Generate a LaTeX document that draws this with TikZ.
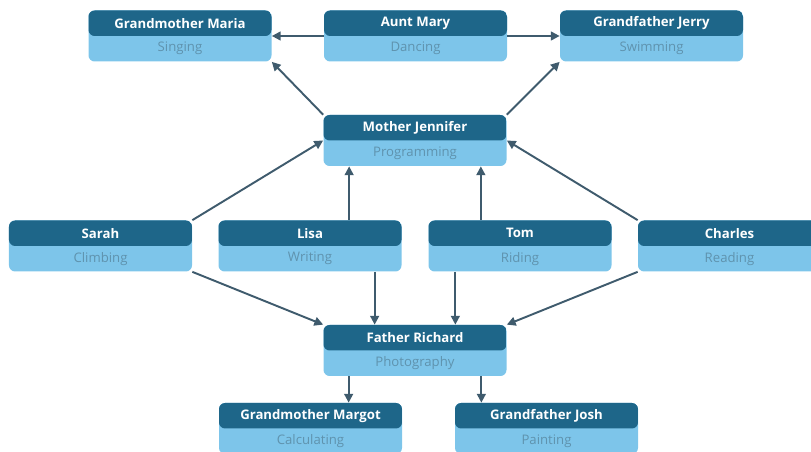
\documentclass[tikz,border=0pt]{standalone}
\usepackage{fontspec}
\setmainfont{Open Sans}
\usetikzlibrary{arrows.meta, positioning, calc}
\definecolor{headcol}{HTML}{1E6689}
\definecolor{hobbycol}{HTML}{7DC5EA}
\definecolor{hobbyink}{HTML}{5F93AE}
\definecolor{arrowcol}{HTML}{3F5B6D}
\tikzset{
  famcard/.style={rounded corners=3.5pt, fill=hobbycol, inner sep=0pt,
    minimum width=3.66cm, minimum height=1.02cm,
    path picture={\fill[headcol] (path picture bounding box.north west)
      rectangle (path picture bounding box.east);}},
  nametxt/.style={font=\fontsize{7.5}{9}\selectfont\bfseries, text=white, inner sep=0pt},
  hobbytxt/.style={font=\fontsize{7.5}{9}\selectfont, text=hobbyink, inner sep=0pt},
  famarrow/.style={-{Triangle[length=5pt,width=5pt]}, draw=arrowcol, line width=1.1pt},
}
% card: name, x, y, title, hobby
\newcommand{\famCard}[5]{%
  \node[famcard] (#1) at (#2,#3) {};
  \node[nametxt] (#1-name) at ([yshift=0.255cm]#1.center) {#4};
  \node[hobbytxt] (#1-hobby) at ([yshift=-0.255cm]#1.center) {#5};
}

\begin{document}
\begin{tikzpicture}
  \useasboundingbox (0,0) rectangle (16.22,9.04);

  % ===== grandparents and aunt =====
  \famCard{gmaria}{3.60}{8.32}{Grandmother Maria}{Singing}
  \famCard{aunt}{8.31}{8.32}{Aunt Mary}{Dancing}
  \famCard{gjerry}{13.03}{8.32}{Grandfather Jerry}{Swimming}

  % ===== parents =====
  \famCard{mother}{8.30}{6.23}{Mother Jennifer}{Programming}
  \famCard{father}{8.30}{2.03}{Father Richard}{Photography}

  % ===== children =====
  \famCard{sarah}{2.01}{4.12}{Sarah}{Climbing}
  \famCard{lisa}{6.20}{4.12}{Lisa}{Writing}
  \famCard{tom}{10.40}{4.12}{Tom}{Riding}
  \famCard{charles}{14.59}{4.12}{Charles}{Reading}

  % ===== father's parents =====
  \famCard{gmargot}{6.21}{0.47}{Grandmother Margot}{Calculating}
  \famCard{gjosh}{10.93}{0.47}{Grandfather Josh}{Painting}

  % docking points on the parent cards
  \coordinate (mother-in-l) at ([xshift=0.52cm]mother.south west);
  \coordinate (mother-in-r) at ([xshift=-0.52cm]mother.south east);
  \coordinate (father-in-l) at ([xshift=1.03cm]father.north west);
  \coordinate (father-in-r) at ([xshift=-1.03cm]father.north east);
  \coordinate (father-out-l) at ([xshift=0.51cm]father.south west);
  \coordinate (father-out-r) at ([xshift=-0.51cm]father.south east);

  % ===== top row =====
  \draw[famarrow] (aunt.west) -- (gmaria.east);
  \draw[famarrow] (aunt.east) -- (gjerry.west);
  \draw[famarrow] (mother.north west) -- (gmaria.south east);
  \draw[famarrow] (mother.north east) -- (gjerry.south west);

  % ===== children to mother =====
  \draw[famarrow] (sarah.north east) -- (mother.west);
  \draw[famarrow] (lisa.north -| mother-in-l) -- (mother-in-l);
  \draw[famarrow] (tom.north -| mother-in-r) -- (mother-in-r);
  \draw[famarrow] (charles.north west) -- (mother.east);

  % ===== children to father =====
  \draw[famarrow] (sarah.south east) -- (father.north west);
  \draw[famarrow] (lisa.south -| father-in-l) -- (father-in-l);
  \draw[famarrow] (tom.south -| father-in-r) -- (father-in-r);
  \draw[famarrow] (charles.south west) -- (father.north east);

  % ===== father to his parents =====
  \draw[famarrow] (father-out-l) -- (father-out-l |- gmargot.north);
  \draw[famarrow] (father-out-r) -- (father-out-r |- gjosh.north);
\end{tikzpicture}
\end{document}
